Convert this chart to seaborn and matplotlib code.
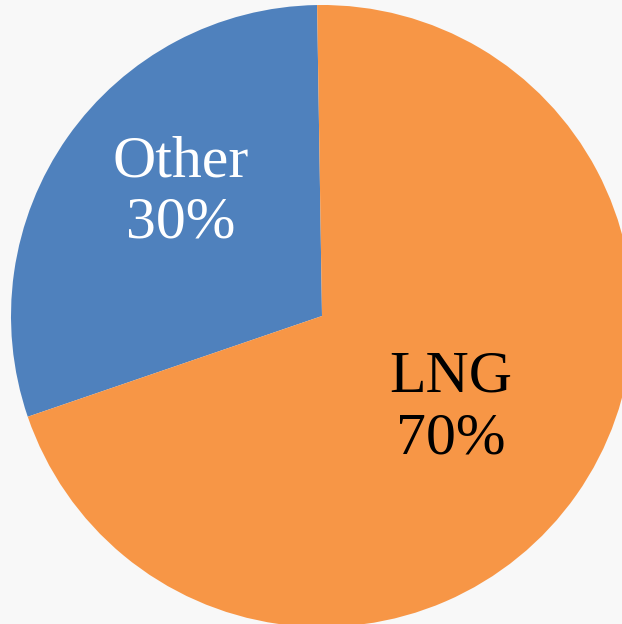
import numpy as np
import seaborn as sns
import matplotlib.pyplot as plt

# shares of the pie
labels = ['Other', 'LNG']
shares = [30, 70]
colors = ['#4f81bd', '#f79646']
text_colors = ['white', 'black']

sns.set_style('white')
plt.rcParams['font.family'] = ['Liberation Serif', 'DejaVu Serif']

fig = plt.figure(figsize=(6.22, 6.24), dpi=100)
fig.patch.set_facecolor('#f8f8f8')
ax = fig.add_axes([0, 0, 1, 1])
ax.set_facecolor('#f8f8f8')

# circle centre sits at pixel (322, 316), radius 311px
r_px = 311.0

wedges, _ = ax.pie(shares, colors=colors, startangle=90.9, counterclock=True,
                   radius=1.0, wedgeprops=dict(linewidth=0),
                   frame=True)
ax.set_xlim(-322 / r_px, (622 - 322) / r_px)
ax.set_ylim(-(624 - 316) / r_px, 316 / r_px)
ax.set_aspect('auto')
ax.axis('off')

label_pos = [(-0.453, 0.395), (0.415, -0.297)]
for lab, s, (x, y), c in zip(labels, shares, label_pos, text_colors):
    ax.text(x, y, f'{lab}\n{s}%', ha='center', va='center', color=c,
            fontsize=43, linespacing=1.18)

fig.savefig('out.png', dpi=100, facecolor=fig.get_facecolor())
